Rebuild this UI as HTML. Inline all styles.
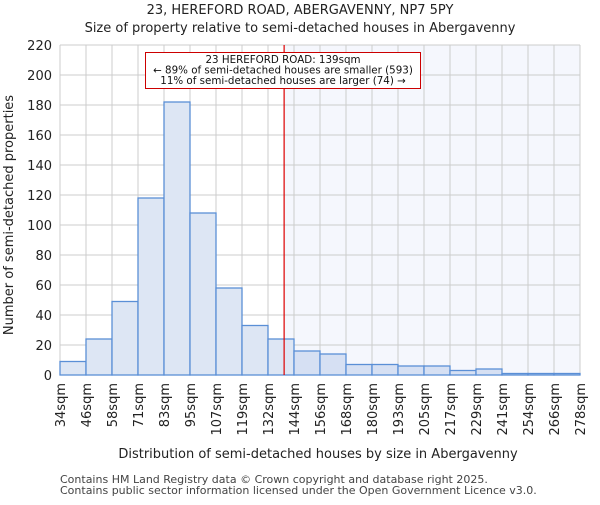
<!DOCTYPE html>
<html><head><meta charset="utf-8"><style>
body{margin:0;background:#fff;}
svg{font-family:"DejaVu Sans","Liberation Sans",sans-serif;}
</style></head><body>
<svg id="chart" width="600" height="500" viewBox="0 0 600 500">
<text x="300" y="14" text-anchor="middle" font-size="13" fill="#222">23, HEREFORD ROAD, ABERGAVENNY, NP7 5PY</text>
<text x="300" y="32" text-anchor="middle" font-size="13" fill="#222">Size of property relative to semi-detached houses in Abergavenny</text>
<g id="plot"></g>
<text x="318" y="458" text-anchor="middle" font-size="13" fill="#222">Distribution of semi-detached houses by size in Abergavenny</text>
<text transform="translate(13,215) rotate(-90)" text-anchor="middle" font-size="13" fill="#222">Number of semi-detached properties</text>
<text x="60" y="483" font-size="11" fill="#444">Contains HM Land Registry data © Crown copyright and database right 2025.</text>
<text x="60" y="494" font-size="11" fill="#444">Contains public sector information licensed under the Open Government Licence v3.0.</text>
</svg>
<script>
const binLabels=["34sqm","46sqm","58sqm","71sqm","83sqm","95sqm","107sqm","119sqm","132sqm","144sqm","156sqm","168sqm","180sqm","193sqm","205sqm","217sqm","229sqm","241sqm","254sqm","266sqm","278sqm"];
const counts=[9,24,49,118,182,108,58,33,24,16,14,7,7,6,6,3,4,1,1,1];
const yTicks=[0,20,40,60,80,100,120,140,160,180,200,220];
const propertyBinPos=8.62;
const annotation=["23 HEREFORD ROAD: 139sqm","← 89% of semi-detached houses are smaller (593)","11% of semi-detached houses are larger (74) →"];
const NS="http://www.w3.org/2000/svg";
const L=60,R=580,T=45,B=375,yMax=220;
const bw=(R-L)/counts.length;
const xs=i=>L+i*bw;
const ys=v=>B-(v/yMax)*(B-T);
const g=document.getElementById('plot');
function mk(t,a){const e=document.createElementNS(NS,t);for(const k in a)e.setAttribute(k,a[k]);g.appendChild(e);return e;}
const px=xs(propertyBinPos);
let e=mk('rect',{x:px,y:T,width:R-px,height:B-T,fill:'#f5f7fd'});


yTicks.forEach(v=>{let l=mk('line',{x1:L,x2:R,y1:ys(v),y2:ys(v),stroke:'#cccccc','stroke-width':1});


let t=mk('text',{x:L-8,y:ys(v)+5,'text-anchor':'end','font-size':13,fill:'#222'});t.textContent=v;

});
binLabels.forEach((s,i)=>{let l=mk('line',{x1:xs(i),x2:xs(i),y1:T,y2:B,stroke:'#cccccc','stroke-width':1});


let t=mk('text',{transform:`translate(${xs(i)+5},${B+8}) rotate(-90)`,'text-anchor':'end','font-size':13,fill:'#222'});t.textContent=s;

});
counts.forEach((c,i)=>{let r=mk('rect',{x:xs(i),y:ys(c),width:bw,height:B-ys(c),fill:i>=9?'#d6e0f3':'#dde6f4',stroke:'#5a8fd6','stroke-width':1.3});

});
e=mk('line',{x1:px,x2:px,y1:T,y2:B,stroke:'#dd0000','stroke-width':1.2});


e=mk('rect',{x:145.5,y:52.5,width:275,height:36,fill:'#fff',stroke:'#cc0000','stroke-width':1});


annotation.forEach((s,i)=>{let t=mk('text',{x:283,y:63+i*10.5,'text-anchor':'middle','font-size':10.3,fill:'#111'});t.textContent=s;

});
</script>
</body></html>
